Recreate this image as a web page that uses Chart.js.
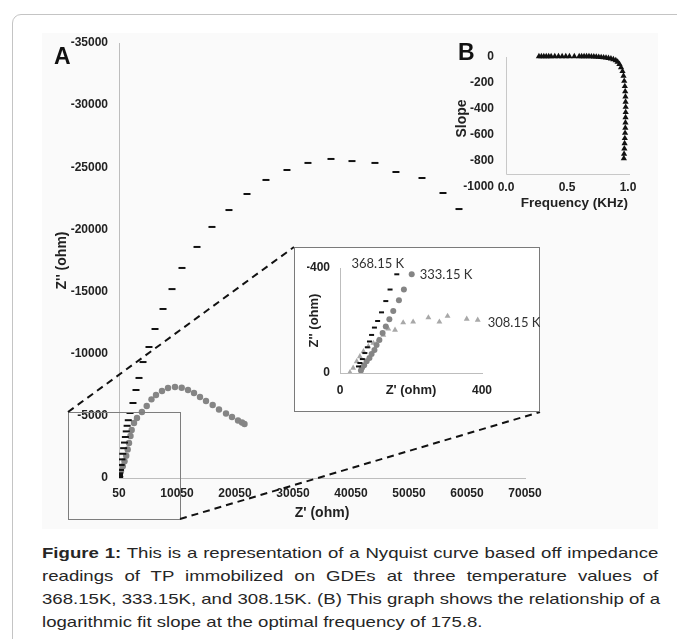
<!DOCTYPE html>
<html>
<head>
<meta charset="utf-8">
<script src="https://cdn.jsdelivr.net/npm/chart.js@4.4.0/dist/chart.umd.min.js"></script>
<style>
  html, body { margin: 0; padding: 0; background: #fff; }
  body { width: 677px; height: 639px; position: relative; overflow: hidden; font-family: "Liberation Sans", Arial, sans-serif; }
  #card { position: absolute; left: 12px; top: 14px; width: 720px; height: 700px; border: 1.5px solid #c4c4c4; border-radius: 9px; box-sizing: border-box; }
  #plotBg { position: absolute; left: 42px; top: 33px; width: 616px; height: 496px; background: #fafafa; }
  canvas { position: absolute; }
  #main { left: 0; top: 0; }
  #inset { left: 294px; top: 247px; }
  #chartB { left: 440px; top: 30px; }
  .panel { position: absolute; font-weight: bold; font-size: 23px; line-height: 23px; color: #111; }
  #caption { position: absolute; left: 42px; top: 541px; width: 497px; font-size: 15px; line-height: 23px; color: #262626; transform: scaleX(1.24); transform-origin: left top; }
  #caption .ln { white-space: nowrap; }
  #caption .j { text-align: justify; text-align-last: justify; }
</style>
</head>
<body>
<div id="plotBg"></div>
<div id="card"></div>
<canvas id="main" width="677" height="540"></canvas>
<canvas id="inset" width="246" height="165"></canvas>
<canvas id="chartB" width="220" height="185"></canvas>
<div class="panel" style="left:54px; top:45px;">A</div>
<div class="panel" style="left:458px; top:41px;">B</div>
<div id="caption">
  <div class="ln j"><b>Figure 1:</b> This is a representation of a Nyquist curve based off impedance</div>
  <div class="ln j">readings of TP immobilized on GDEs at three temperature values of</div>
  <div class="ln j">368.15K, 333.15K, and 308.15K. (B) This graph shows the relationship of a</div>
  <div class="ln">logarithmic fit slope at the optimal frequency of 175.8.</div>
</div>
<script>
// Nyquist data, Z' (ohm) and Z'' (ohm) for each temperature
const seriesNames = ['368.15 K', '333.15 K', '308.15 K'];

const re368 = [52, 56, 63, 70, 77, 83, 89, 97, 106, 117, 129, 141, 160,
  300, 420, 560, 700, 850, 1000, 1150, 1300, 1450, 1650, 1950, 2460, 2980, 3500, 4190, 5220,
  6260, 7640, 9190, 10910, 13500, 16080, 19010, 22120, 25390, 29010, 32630, 36600, 40220,
  44180, 47800, 52290, 55910, 58670];
const im368 = [-25, -38, -53, -76, -98, -120, -145, -173, -198, -231, -274, -318, -376,
  -650, -1050, -1500, -1950, -2400, -2850, -3300, -3750, -4200, -4650, -5230, -6035, -7080, -8050, -9330, -10540,
  -11990, -13600, -15200, -16900, -18590, -20200, -21560, -22850, -23980, -24780, -25350, -25670, -25500,
  -25350, -24620, -24140, -22930, -21640];

const re333 = [59, 62, 68, 75, 83, 89, 97, 103, 111, 120, 129, 139, 150, 166, 180, 202,
  400, 700, 1000, 1300, 1550, 1780, 2030, 2240, 2640, 3150, 4000, 4830, 5650, 6430, 7460,
  8500, 9700, 10860, 11950, 12980, 14015, 15050, 16200, 17290, 18500, 19530, 20570, 21260, 21690];
const im333 = [-10, -20, -30, -45, -57, -72, -88, -107, -126, -152, -177, -205, -236, -277, -318, -376,
  -560, -950, -1350, -1800, -2300, -2820, -3380, -3860, -4420, -4830, -5310, -5790, -6330, -6680, -7000,
  -7240, -7320, -7265, -7080, -6840, -6520, -6195, -5870, -5510, -5190, -4910, -4625, -4465, -4345];

const re308 = [28, 37, 47, 56, 66, 80, 94, 108, 122, 136, 155, 178, 206, 249, 280, 303, 357, 388];
const im308 = [-2, -19, -44, -63, -82, -101, -114, -126, -145, -168, -164, -192, -195, -211, -195, -217, -206, -202];

// panel B: logarithmic fit slope against frequency (KHz)
const freqB = [0.27, 0.29, 0.31, 0.33, 0.35, 0.37, 0.40, 0.43, 0.46, 0.49, 0.52, 0.56, 0.60, 0.62, 0.64,
  0.66, 0.68, 0.70, 0.72, 0.74, 0.76, 0.78, 0.80, 0.82, 0.84, 0.86, 0.88, 0.90, 0.915, 0.93, 0.943,
  0.955, 0.963, 0.969, 0.974, 0.977, 0.979, 0.98, 0.981, 0.981, 0.98, 0.979, 0.978, 0.976, 0.974,
  0.972, 0.97, 0.968, 0.966];
const slopeB = [5, 5, 5, 5, 5, 5, 5, 5, 5, 5, 5, 5, 5, 5, 5,
  5, 5, 4, 3, 2, 0, -2, -4, -6, -9, -13, -18, -26, -38, -55, -80,
  -110, -145, -185, -225, -265, -305, -345, -385, -425, -465, -505, -545, -585, -625,
  -665, -705, -745, -780];
const slopeTicks = [0, -200, -400, -600, -800, -1000];

const toPts = (xs, ys) => xs.map((x, i) => ({ x: x, y: ys[i] }));

Chart.defaults.font.family = '"Liberation Sans", Arial, sans-serif';
Chart.defaults.color = '#222';
Chart.defaults.animation = false;

const tickFont = { size: 12, weight: 'bold' };
const axisLine = { display: true, color: '#bdbdbd', width: 1 };

function nyquistSets(dash, dot, tri) {
  return [
    { label: seriesNames[0], data: toPts(re368, im368), pointStyle: 'line', pointRadius: dash,
      borderColor: '#111', backgroundColor: '#111', pointBorderWidth: 2 },
    { label: seriesNames[1], data: toPts(re333, im333), pointStyle: 'circle', pointRadius: dot,
      borderColor: '#858585', backgroundColor: '#858585', pointBorderWidth: 0 },
    { label: seriesNames[2], data: toPts(re308, im308), pointStyle: 'triangle', pointRadius: tri,
      borderColor: '#a8a8a8', backgroundColor: '#a8a8a8', pointBorderWidth: 0 }
  ];
}

// zoom box and the dashed lines leading to the inset
const zoomLines = {
  id: 'zoomLines',
  afterDraw(chart) {
    const ctx = chart.ctx;
    ctx.save();
    ctx.strokeStyle = '#7d7d7d';
    ctx.lineWidth = 1;
    ctx.strokeRect(68.5, 412.5, 112, 107);
    ctx.strokeStyle = '#111';
    ctx.lineWidth = 2;
    ctx.setLineDash([7, 5]);
    ctx.beginPath();
    ctx.moveTo(68, 412); ctx.lineTo(294, 247);
    ctx.moveTo(180, 519); ctx.lineTo(540, 412);
    ctx.stroke();
    ctx.restore();
  }
};

new Chart(document.getElementById('main'), {
  type: 'scatter',
  data: { datasets: nyquistSets(3.5, 3.2, 3.5) },
  options: {
    responsive: false,
    layout: { padding: { left: 54, top: 43, right: 152, bottom: 18 } },
    plugins: { legend: { display: false }, tooltip: { enabled: false } },
    scales: {
      x: {
        type: 'linear', min: 50, max: 70050,
        afterFit: s => { s.height = 44; },
        grid: { display: false, drawTicks: false },
        border: axisLine,
        ticks: { stepSize: 10000, autoSkip: false, maxRotation: 0, padding: 8, font: tickFont, callback: v => String(v) },
        title: { display: true, text: "Z' (ohm)", font: { size: 14, weight: 'bold' }, padding: 0 }
      },
      y: {
        type: 'linear', min: -35000, max: 0, reverse: true,
        afterFit: s => { s.width = 65; },
        grid: { display: false, drawTicks: false },
        border: axisLine,
        ticks: { stepSize: 5000, padding: 11, font: tickFont, callback: v => String(v) },
        title: { display: true, text: "Z'' (ohm)", font: { size: 14, weight: 'bold' }, padding: 0 }
      }
    }
  },
  plugins: [zoomLines]
});

// inset: white frame and the temperature labels next to each series
const insetFrame = {
  id: 'insetFrame',
  beforeDraw(chart) {
    const ctx = chart.ctx;
    ctx.save();
    ctx.fillStyle = '#fff';
    ctx.fillRect(0, 0, chart.width, chart.height);
    ctx.strokeStyle = '#7a7a7a';
    ctx.lineWidth = 1;
    ctx.strokeRect(0.5, 0.5, chart.width - 1, chart.height - 1);
    ctx.restore();
  },
  afterDatasetsDraw(chart) {
    const ctx = chart.ctx;
    const xs = chart.scales.x, ys = chart.scales.y;
    const offsets = [[-19, -10, 'center'], [8, 1, 'left'], [10, 3, 'left']];
    ctx.save();
    ctx.font = '13px Lato, "Liberation Sans", sans-serif';
    ctx.fillStyle = '#333';
    ctx.textBaseline = 'middle';
    chart.data.datasets.forEach((ds, i) => {
      let last = -1;
      ds.data.forEach((p, j) => {
        if (p.x >= xs.min && p.x <= xs.max && p.y >= ys.min && p.y <= ys.max) last = j;
      });
      if (last < 0) return;
      const el = chart.getDatasetMeta(i).data[last];
      ctx.textAlign = offsets[i][2];
      ctx.fillText(ds.label, el.x + offsets[i][0], el.y + offsets[i][1]);
    });
    ctx.restore();
  }
};

new Chart(document.getElementById('inset'), {
  type: 'scatter',
  data: { datasets: nyquistSets(2.5, 3, 3.4) },
  options: {
    responsive: false,
    layout: { padding: { left: 13, top: 21, right: 58, bottom: 14 } },
    plugins: { legend: { display: false }, tooltip: { enabled: false } },
    scales: {
      x: {
        type: 'linear', min: 0, max: 400,
        afterFit: s => { s.height = 25; },
        grid: { display: false, drawTicks: false },
        border: axisLine,
        ticks: { stepSize: 400, maxRotation: 0, padding: 10, font: tickFont, callback: v => String(v) },
        title: { display: true, text: "Z' (ohm)", font: { size: 13, weight: 'bold' }, padding: 0 }
      },
      y: {
        type: 'linear', min: -400, max: 0, reverse: true,
        afterFit: s => { s.width = 33; },
        grid: { display: false, drawTicks: false },
        border: axisLine,
        ticks: { stepSize: 400, padding: 10, font: tickFont, callback: v => String(v) },
        title: { display: true, text: "Z'' (ohm)", font: { size: 13, weight: 'bold' }, padding: 0 }
      }
    }
  },
  plugins: [insetFrame]
});

// panel B axes: vertical axis meets the horizontal one at -900
const bAxes = {
  id: 'bAxes',
  beforeDatasetsDraw(chart) {
    const ctx = chart.ctx;
    const xs = chart.scales.x, ys = chart.scales.y;
    const x0 = Math.round(xs.getPixelForValue(0)) + 0.5;
    const yCross = Math.round(ys.getPixelForValue(-900)) + 0.5;
    ctx.save();
    ctx.strokeStyle = '#c8c8c8';
    ctx.lineWidth = 1;
    ctx.beginPath();
    ctx.moveTo(x0, ys.getPixelForValue(0));
    ctx.lineTo(x0, yCross);
    ctx.lineTo(chart.chartArea.right + 2, yCross);
    ctx.stroke();
    ctx.restore();
  }
};

new Chart(document.getElementById('chartB'), {
  type: 'scatter',
  data: {
    datasets: [{
      label: 'Slope', data: toPts(freqB, slopeB), pointStyle: 'triangle', pointRadius: 3.6,
      borderColor: '#111', backgroundColor: '#111', pointBorderWidth: 0, clip: false
    }]
  },
  options: {
    responsive: false,
    layout: { padding: { left: 14, top: 27, right: 32, bottom: 4 } },
    plugins: { legend: { display: false }, tooltip: { enabled: false } },
    scales: {
      x: {
        type: 'linear', min: 0, max: 1,
        afterFit: s => { s.height = 31; },
        grid: { display: false, drawTicks: false },
        border: { display: false },
        ticks: { stepSize: 0.5, maxRotation: 0, padding: 0, font: tickFont, callback: v => v.toFixed(1) },
        title: { display: true, text: 'Frequency (KHz)', align: 'end', font: { size: 13.5, weight: 'bold' }, padding: 0 }
      },
      y: {
        // the -1000 label sits level with the frequency labels, just under the plot
        type: 'linear', min: -946, max: 0,
        afterFit: s => { s.width = 52; },
        afterBuildTicks: s => { s.ticks = slopeTicks.map(v => ({ value: v })); },
        grid: { display: false, drawTicks: false },
        border: { display: false },
        ticks: { padding: 12, font: tickFont, callback: v => String(v) },
        title: { display: true, text: 'Slope', font: { size: 14, weight: 'bold' }, padding: 0 }
      }
    }
  },
  plugins: [bAxes]
});
</script>
</body>
</html>
